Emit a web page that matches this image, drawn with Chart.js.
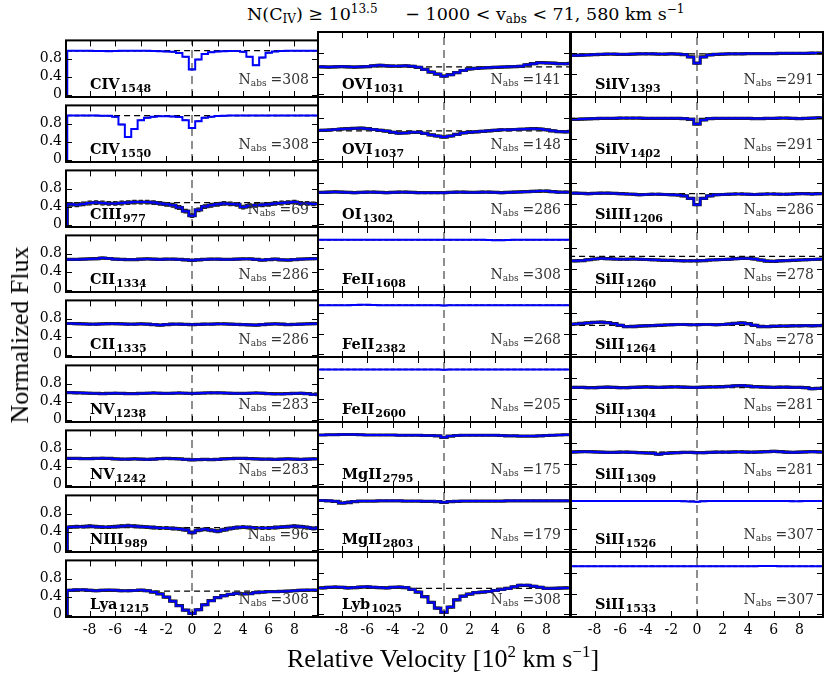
<!DOCTYPE html>
<html>
<head>
<meta charset="utf-8">
<script src="https://cdn.jsdelivr.net/npm/chart.js@4.4.1/dist/chart.umd.min.js"></script>
<style>
  html, body { margin: 0; padding: 0; background: #fff; }
  body { position: relative; width: 830px; height: 682px; overflow: hidden; }
  canvas { position: absolute; }
  .txt { position: absolute; white-space: pre; color: #000; }
  .txt sub, .txt sup { position: relative; vertical-align: baseline; line-height: 0; }
  .ion { font: bold 14.5px "DejaVu Serif", serif; }
  .ion sub { font-size: 11px; top: 2.5px; margin-left: 1px; }
  .nabs { font: 14px "DejaVu Serif", serif; color: #333; }
  .nabs sub { font-size: 9px; top: 2px; margin-right: 4px; }
  .title { font: 17.5px "DejaVu Serif", serif; }
  .title sub { font-size: 12px; top: 3px; }
  .title sup { font-size: 12px; top: -7.5px; }
  .axis { font: 26px "Liberation Serif", serif; }
  .axis sup { font-size: 17px; top: -10px; }
</style>
</head>
<body>
<script>
// velocity bin centres [10^2 km/s]
const velocity = [-10, -9.5, -9, -8.5, -8, -7.5, -7, -6.5, -6, -5.5, -5, -4.5, -4, -3.5, -3, -2.5, -2, -1.5, -1, -0.5,
  0, 0.5, 1, 1.5, 2, 2.5, 3, 3.5, 4, 4.5, 5, 5.5, 6, 6.5, 7, 7.5, 8, 8.5, 9, 9.5, 10];
const xTicks = [-8, -6, -4, -2, 0, 2, 4, 6, 8];
const yTicks = [0, 0.4, 0.8];

const ions = ["CIV", "CIV", "CIII", "CII", "CII", "NV", "NV", "NIII", "Lya",
  "OVI", "OVI", "OI", "FeII", "FeII", "FeII", "MgII", "MgII", "Lyb",
  "SiIV", "SiIV", "SiIII", "SiII", "SiII", "SiII", "SiII", "SiII", "SiII"];
const wavelengths = [1548, 1550, 977, 1334, 1335, 1238, 1242, 989, 1215,
  1031, 1037, 1302, 1608, 2382, 2600, 2795, 2803, 1025,
  1393, 1402, 1206, 1260, 1264, 1304, 1309, 1526, 1533];
const nAbs = [308, 308, 69, 286, 286, 283, 283, 96, 308,
  141, 148, 286, 308, 268, 205, 175, 179, 308,
  291, 291, 286, 278, 278, 281, 281, 307, 307];
const continuum = [0.975, 0.975, 0.49, 0.67, 0.67, 0.59, 0.56, 0.49, 0.52,
  0.53, 0.55, 0.62, 0.955, 0.945, 0.96, 0.94, 0.93, 0.50,
  0.78, 0.79, 0.59, 0.635, 0.56, 0.61, 0.62, 0.93, 0.925];
const fluxError = [0.004, 0.004, 0.04, 0.018, 0.018, 0.018, 0.018, 0.03, 0.018,
  0.018, 0.018, 0.018, 0.004, 0.004, 0.004, 0.01, 0.01, 0.018,
  0.015, 0.015, 0.018, 0.018, 0.018, 0.018, 0.018, 0.004, 0.004];

const CIV1548 = [0, .97, .97, .97, .97, .965, .965, .96, .965, .97,
  .97, .97, .97, .97, .965, .96, .955, .95, .92, .84,
  .56, .78, .9, .94, .955, .96, .965, .965, .95, .84,
  .65, .82, .93, .955, .965, .97, .97, .97, .97, .97, .97];
const CIV1550 = [0, .975, .975, .975, .975, .975, .97, .97, .95, .78,
  .50, .68, .87, .93, .95, .96, .96, .955, .945, .87,
  .70, .85, .93, .95, .965, .97, .975, .975, .975, .975,
  .975, .975, .975, .975, .975, .975, .975, .975, .975, .975, .975];
const CIII977 = [0, .45, .44, .46, .48, .49, .48, .47, .47, .48,
  .49, .50, .50, .50, .49, .47, .45, .43, .38, .30,
  .20, .33, .40, .43, .45, .47, .46, .45, .39, .42,
  .43, .44, .45, .47, .48, .49, .50, .47, .47, .46, .46];
const CII1334 = [.67, .67, .67, .675, .68, .685, .70, .69, .675, .67,
  .665, .665, .675, .68, .675, .67, .675, .675, .67, .66,
  .65, .66, .67, .675, .675, .67, .67, .675, .68, .68,
  .67, .655, .665, .675, .66, .655, .665, .675, .68, .685, .685];
const CII1335 = [.69, .69, .685, .68, .675, .675, .68, .685, .685, .68,
  .675, .675, .68, .675, .665, .655, .665, .675, .675, .67,
  .665, .67, .675, .675, .68, .68, .675, .67, .665, .66,
  .655, .665, .675, .68, .675, .665, .67, .675, .68, .685, .685];
const NV1238 = [.60, .60, .595, .59, .585, .58, .575, .58, .585, .58,
  .575, .575, .58, .585, .59, .585, .58, .585, .59, .585,
  .58, .585, .59, .595, .595, .59, .585, .58, .58, .585,
  .59, .585, .575, .57, .57, .575, .58, .585, .575, .56, .555];
const NV1242 = [.58, .58, .58, .575, .575, .58, .585, .58, .57, .565,
  .565, .57, .565, .56, .565, .575, .58, .575, .57, .56,
  .55, .555, .56, .555, .56, .57, .575, .58, .58, .575,
  .57, .565, .565, .56, .565, .57, .565, .56, .565, .57, .57];
const NIII989 = [0, .50, .51, .51, .52, .51, .50, .50, .51, .52,
  .53, .52, .51, .50, .49, .48, .48, .47, .46, .44,
  .38, .43, .45, .43, .41, .44, .47, .49, .50, .49,
  .48, .48, .48, .49, .50, .51, .52, .51, .49, .47, .49];
const Lya1215 = [0, .54, .55, .55, .54, .53, .54, .545, .54, .53,
  .53, .535, .545, .53, .50, .46, .39, .30, .20, .10,
  .03, .11, .22, .31, .38, .42, .45, .47, .46, .465,
  .49, .50, .51, .51, .515, .52, .53, .54, .545, .545, .545];
const OVI1031 = [.53, .53, .525, .53, .535, .53, .525, .53, .535, .55,
  .56, .55, .545, .545, .55, .54, .52, .48, .43, .39,
  .35, .38, .42, .46, .49, .50, .51, .515, .52, .525,
  .53, .535, .54, .57, .59, .61, .605, .60, .59, .59, .595];
const OVI1037 = [.56, .56, .565, .575, .585, .59, .595, .60, .59, .575,
  .56, .545, .52, .505, .51, .52, .52, .50, .47, .45,
  .43, .45, .48, .51, .52, .53, .54, .55, .56, .57,
  .57, .575, .58, .585, .59, .585, .57, .55, .535, .53, .54];
const OI1302 = [.615, .615, .62, .625, .62, .615, .61, .615, .62, .62,
  .615, .61, .615, .62, .62, .615, .61, .61, .61, .61,
  .61, .615, .62, .62, .615, .615, .62, .62, .615, .61,
  .615, .62, .625, .63, .635, .64, .64, .63, .62, .62, .62];
const FeII1608 = [.955, .955, .955, .955, .955, .955, .955, .955, .955, .955,
  .955, .955, .955, .955, .955, .955, .955, .955, .955, .955,
  .955, .955, .955, .955, .955, .955, .955, .95, .945, .945,
  .95, .955, .955, .955, .955, .955, .955, .955, .955, .955, .955];
const FeII2382 = [.945, .945, .945, .945, .945, .945, .95, .955, .955, .95,
  .945, .945, .945, .945, .945, .945, .945, .945, .945, .945,
  .94, .945, .945, .945, .945, .945, .945, .945, .945, .945,
  .945, .945, .945, .945, .945, .945, .945, .945, .945, .945, .945];
const FeII2600 = [.96, .96, .96, .96, .96, .96, .96, .96, .96, .96,
  .96, .96, .96, .96, .96, .96, .96, .96, .96, .96,
  .955, .96, .96, .96, .96, .96, .96, .96, .96, .96,
  .96, .96, .96, .96, .96, .96, .96, .96, .96, .96, .96];
const MgII2795 = [.95, .95, .955, .955, .96, .96, .96, .955, .95, .95,
  .95, .95, .95, .945, .945, .945, .945, .94, .94, .935,
  .905, .93, .94, .945, .945, .945, .945, .945, .945, .94,
  .935, .935, .93, .93, .93, .935, .94, .945, .95, .955, .955];
const MgII2803 = [.94, .94, .935, .925, .89, .90, .92, .93, .93, .93,
  .935, .935, .935, .935, .93, .93, .93, .925, .925, .92,
  .905, .92, .925, .93, .93, .93, .93, .93, .93, .93,
  .935, .935, .935, .935, .935, .935, .935, .935, .935, .935, .935];
const Lyb1025 = [.51, .51, .52, .525, .52, .51, .515, .525, .53, .52,
  .515, .51, .52, .525, .515, .48, .43, .34, .23, .12,
  .04, .14, .28, .35, .39, .42, .43, .44, .46, .48,
  .50, .53, .56, .56, .54, .52, .50, .50, .505, .51, .51];
const SiIV1393 = [.75, .75, .755, .76, .765, .77, .775, .775, .77, .77,
  .775, .78, .78, .78, .775, .775, .78, .775, .765, .72,
  .60, .72, .76, .77, .775, .78, .78, .78, .785, .785,
  .785, .785, .785, .79, .79, .79, .79, .79, .795, .795, .795];
const SiIV1402 = [.77, .77, .775, .78, .785, .79, .79, .79, .795, .795,
  .795, .795, .79, .79, .79, .79, .79, .79, .785, .77,
  .68, .76, .785, .79, .79, .79, .79, .79, .79, .785,
  .785, .79, .79, .795, .795, .79, .785, .79, .795, .80, .80];
const SiIII1206 = [.60, .60, .595, .59, .595, .60, .60, .595, .59, .585,
  .58, .57, .575, .58, .58, .575, .57, .565, .55, .50,
  .38, .50, .55, .57, .575, .58, .585, .585, .58, .575,
  .58, .585, .585, .58, .58, .585, .59, .59, .585, .59, .59];
const SiII1260 = [.55, .55, .555, .57, .585, .595, .59, .585, .58, .58,
  .585, .58, .575, .57, .565, .56, .56, .555, .55, .55,
  .55, .555, .565, .57, .575, .58, .59, .595, .595, .585,
  .565, .545, .54, .55, .555, .56, .565, .57, .575, .58, .585];
const SiII1264 = [.58, .585, .595, .605, .615, .62, .61, .59, .56, .535,
  .535, .545, .55, .555, .56, .565, .57, .575, .575, .57,
  .57, .575, .575, .57, .575, .585, .595, .605, .59, .56,
  .535, .535, .54, .545, .545, .55, .55, .555, .55, .555, .56];
const SiII1304 = [.615, .615, .615, .61, .61, .615, .62, .615, .61, .61,
  .615, .62, .625, .62, .615, .62, .625, .625, .62, .615,
  .615, .62, .625, .625, .63, .635, .645, .65, .64, .63,
  .625, .62, .615, .62, .62, .615, .615, .61, .59, .595, .605];
const SiII1309 = [.62, .625, .63, .63, .625, .62, .615, .615, .62, .62,
  .615, .61, .605, .60, .58, .595, .605, .61, .615, .615,
  .61, .61, .615, .62, .62, .62, .625, .625, .62, .62,
  .625, .63, .635, .63, .62, .615, .62, .625, .63, .625, .62];
const SiII1526 = [.93, .93, .93, .93, .93, .93, .93, .93, .93, .93,
  .93, .93, .93, .93, .93, .93, .93, .93, .925, .92,
  .915, .925, .93, .93, .93, .93, .93, .93, .93, .93,
  .93, .93, .93, .93, .93, .925, .925, .93, .93, .93, .93];
const SiII1533 = [.925, .925, .925, .925, .925, .925, .925, .925, .925, .925,
  .925, .925, .925, .925, .925, .925, .925, .925, .925, .925,
  .925, .925, .925, .925, .925, .925, .925, .925, .925, .925,
  .93, .93, .93, .925, .925, .925, .925, .925, .925, .925, .925];

const fluxes = [CIV1548, CIV1550, CIII977, CII1334, CII1335, NV1238, NV1242, NIII989, Lya1215,
  OVI1031, OVI1037, OI1302, FeII1608, FeII2382, FeII2600, MgII2795, MgII2803, Lyb1025,
  SiIV1393, SiIV1402, SiIII1206, SiII1260, SiII1264, SiII1304, SiII1309, SiII1526, SiII1533];

// layout
const COL_X = [66, 318, 571];
const ROW_Y = [32, 97, 162, 227, 292, 357, 422, 487, 552];
const PW = 252, PH = 65;
const ML = 55, MT = 4, MR = 4, MB = 30;

Chart.defaults.font.family = "'DejaVu Serif', serif";

const framePlugin = {
  id: "frame",
  afterDraw(chart) {
    const { ctx, chartArea: a, scales } = chart;
    ctx.save();
    ctx.strokeStyle = "#000";
    ctx.lineWidth = 1;
    ctx.beginPath();
    xTicks.forEach((v) => {
      const px = Math.round(scales.x.getPixelForValue(v)) + 0.5;
      ctx.moveTo(px, a.top); ctx.lineTo(px, a.top + 6);
      ctx.moveTo(px, a.bottom); ctx.lineTo(px, a.bottom - 6);
    });
    yTicks.forEach((v) => {
      const py = Math.round(scales.y.getPixelForValue(v)) + 0.5;
      ctx.moveTo(a.left, py); ctx.lineTo(a.left + 6, py);
      ctx.moveTo(a.right, py); ctx.lineTo(a.right - 6, py);
    });
    ctx.stroke();
    ctx.lineWidth = 2;
    ctx.strokeRect(a.left, a.top, a.right - a.left, a.bottom - a.top);
    ctx.restore();
  },
};

function addText(cls, html, css) {
  const d = document.createElement("div");
  d.className = "txt " + cls;
  d.innerHTML = html;
  Object.assign(d.style, css);
  document.body.appendChild(d);
  return d;
}

fluxes.forEach((flux, i) => {
  const col = Math.floor(i / 9), row = i % 9;
  const left = COL_X[col], top = ROW_Y[row];
  const err = fluxError[i];
  const cv = document.createElement("canvas");
  cv.width = ML + PW + MR; cv.height = MT + PH + MB;
  cv.style.width = cv.width + "px"; cv.style.height = cv.height + "px";
  cv.style.left = left - ML + "px"; cv.style.top = top - MT + "px";
  document.body.appendChild(cv);

  const pts = velocity.map((v, k) => ({ x: v, y: flux[k] }));
  const up = velocity.map((v, k) => ({ x: v, y: flux[k] + err }));
  const lo = velocity.map((v, k) => ({ x: v, y: flux[k] - err }));
  const bars = velocity.map((v, k) => ({ x: v, y: [flux[k] - err, flux[k] + err] }));

  new Chart(cv, {
    type: "line",
    data: {
      datasets: [
        { data: pts, borderColor: "#0000ff", borderWidth: 2, stepped: "middle", pointRadius: 0 },
        { data: up, showLine: false, pointStyle: "line", pointRadius: 2.2, borderColor: "#222", borderWidth: 1.2 },
        { data: lo, showLine: false, pointStyle: "line", pointRadius: 2.2, borderColor: "#222", borderWidth: 1.2 },
        { type: "bar", data: bars, backgroundColor: "#444", barThickness: 1, grouped: false },
        { data: pts, borderColor: "#222", borderWidth: err > 0.006 ? 3.2 : 0, stepped: "middle", pointRadius: 0 },
        { data: [{ x: -10, y: continuum[i] }, { x: 10, y: continuum[i] }], borderColor: "#000", borderWidth: 1.2, borderDash: [6, 4], pointRadius: 0 },
        { data: [{ x: 0, y: -0.05 }, { x: 0, y: 1.2 }], borderColor: "#444", borderWidth: 1.2, borderDash: [8, 5], pointRadius: 0 },
      ],
    },
    options: {
      responsive: false,
      animation: false,
      devicePixelRatio: 1,
      events: [],
      layout: { autoPadding: false, padding: { top: MT, right: MR, left: 0, bottom: 0 } },
      plugins: { legend: { display: false }, tooltip: { enabled: false } },
      scales: {
        x: {
          type: "linear", min: -9.85, max: 9.85, offset: false,
          grid: { display: false, drawTicks: false }, border: { display: false },
          afterBuildTicks: (s) => { s.ticks = xTicks.map((v) => ({ value: v })); },
          afterFit: (s) => { s.height = MB; },
          ticks: { display: row === 8, padding: 5, color: "#000", font: { size: 14 } },
        },
        y: {
          type: "linear", min: -0.05, max: 1.2,
          grid: { display: false, drawTicks: false }, border: { display: false },
          afterBuildTicks: (s) => { s.ticks = yTicks.map((v) => ({ value: v })); },
          afterFit: (s) => { s.width = ML; },
          ticks: { display: col === 0, padding: 4, color: "#000", font: { size: 14 } },
        },
      },
    },
    plugins: [framePlugin],
  });

  // line-height normal: baseline sits about 0.93em below the box top for DejaVu Serif
  addText("ion", ions[i] + "<sub>" + wavelengths[i] + "</sub>", { left: left + 24 + "px", top: top + 43 + "px" });
  addText("nabs", "N<sub>abs</sub>=" + nAbs[i], { right: 830 - (left + PW - 9) + "px", top: top + 38.5 + "px" });
});

addText("title", "N(C<sub>IV</sub>) ≥ 10<sup>13.5</sup>     − 1000 &lt; v<sub>abs</sub> &lt; 71, 580 km s<sup>−1</sup>", { left: "247px", top: "4px" });
addText("axis", "Relative Velocity [10<sup>2</sup> km s<sup>−1</sup>]", { left: "287px", top: "644px" });
const yl = addText("axis", "Normalized Flux", { left: "20px", top: "335px" });
yl.style.transform = "translate(-50%, -50%) rotate(-90deg)";
</script>
</body>
</html>
